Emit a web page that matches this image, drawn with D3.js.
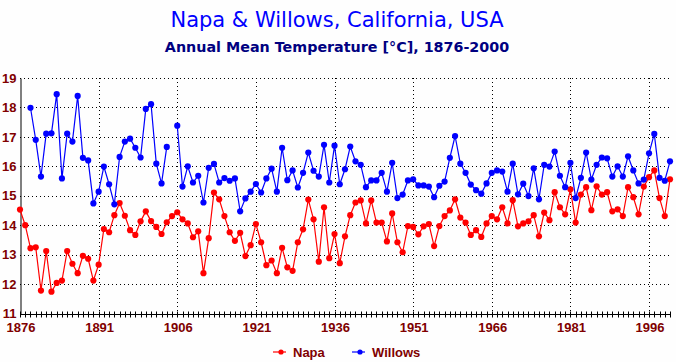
<!DOCTYPE html>
<meta charset="utf-8">
<style>
    body { margin: 0; background: #fefefe; }
    svg { display: block; }
</style>
<script src="https://d3js.org/d3.v7.min.js"></script>
<body>
<div id="chart"></div>
<script>

    // years 1876..2000
    var startYear = 1876;
    var napa = [14.53, 14.0, 13.22, 13.25, 11.78, 13.12, 11.74, 12.04, 12.12, 13.12,
        12.69, 12.37, 12.96, 12.86, 12.12, 12.66, 13.87, 13.76, 14.34, 14.75,
        14.32, 13.83, 13.67, 14.13, 14.47, 14.14, 13.94, 13.70, 14.10, 14.31,
        14.44, 14.20, 14.06, 13.59, 13.79, 12.37, 13.56, 15.11, 14.88, 14.31,
        13.76, 13.47, 13.74, 12.95, 13.32, 14.04, 13.42, 12.64, 12.80, 12.37,
        13.23, 12.57, 12.45, 13.42, 13.86, 14.87, 14.20, 12.76, 14.61, 12.88,
        13.70, 12.71, 13.62, 14.34, 14.77, 14.84, 14.06, 14.84, 14.09, 14.09,
        13.45, 14.40, 13.42, 13.08, 13.97, 13.94, 13.69, 13.96, 14.04, 13.29,
        13.97, 14.31, 14.50, 14.88, 14.26, 14.09, 13.67, 13.83, 13.60, 14.06,
        14.31, 14.20, 14.61, 14.06, 14.85, 13.96, 14.06, 14.13, 14.34, 13.62,
        14.43, 14.17, 15.12, 14.61, 14.37, 15.22, 14.09, 15.04, 15.29, 14.51,
        15.32, 15.04, 15.12, 14.47, 14.54, 14.31, 15.29, 14.95, 14.37, 15.31,
        15.63, 15.86, 14.92, 14.31, 15.56];

    var willows = [null, null, 17.99, 16.90, 15.65, 17.11, 17.12, 18.45, 15.59, 17.11,
        16.84, 18.39, 16.29, 16.20, 14.74, 15.14, 15.99, 15.39, 14.71, 16.32,
        16.84, 16.94, 16.63, 16.30, 17.95, 18.11, 16.09, 15.42, 16.66, null,
        17.38, 15.31, 16.00, 15.45, 15.68, 14.77, 15.95, 16.08, 15.45, 15.60,
        15.51, 15.59, 14.47, 14.91, 15.14, 15.40, 15.11, 15.59, 15.92, 15.14,
        16.63, 15.53, 15.86, 15.28, 15.78, 16.47, 15.85, 15.65, 16.73, 15.45,
        16.70, 15.39, 15.90, 16.67, 16.17, 16.05, 15.29, 15.52, 15.52, 15.78,
        15.14, 16.12, 14.92, 15.04, 15.52, 15.56, 15.35, 15.35, 15.31, 14.95,
        15.34, 15.48, 16.29, 17.03, 16.09, 15.78, 15.38, 15.19, 15.07, 15.42,
        15.78, 15.86, 15.82, 15.14, 16.09, 15.05, 15.41, 14.99, 15.93, 14.88,
        16.05, 15.99, 16.50, 15.68, 15.29, 16.12, 14.92, 15.61, 16.47, 15.55,
        16.05, 16.30, 16.27, 15.65, 16.00, 15.65, 16.34, 15.86, 15.42, 15.55,
        16.44, 17.10, 15.61, 15.51, 16.17];

    var xTicks = [1876, 1891, 1906, 1921, 1936, 1951, 1966, 1981, 1996];
    var yTicks = [11, 12, 13, 14, 15, 16, 17, 18, 19];

    var width = 676, height = 362;
    var labelColor = "#800000";

    var svg = d3.select("#chart")
        .append("svg")
        .attr("width", width)
        .attr("height", height);

    var x = d3.scaleLinear()
        .domain([1876, 2000])
        .range([20, 670]);

    var y = d3.scaleLinear()
        .domain([11, 19])
        .range([313.5, 78]);

    // titles
    svg.append("text")
        .attr("x", 337).attr("y", 27)
        .attr("text-anchor", "middle")
        .style("font", "21px 'DejaVu Sans', sans-serif")
        .style("fill", "#0000ff")
        .text("Napa & Willows, California, USA");

    svg.append("text")
        .attr("x", 337).attr("y", 52)
        .attr("text-anchor", "middle")
        .style("font", "bold 14.3px 'DejaVu Sans', sans-serif")
        .style("fill", "#000080")
        .text("Annual Mean Temperature [°C], 1876-2000");

    // dotted grid
    svg.append("g")
        .selectAll("line")
        .data(yTicks.slice(1))
        .enter()
        .append("line")
        .attr("x1", x(1876)).attr("x2", x(2000))
        .attr("y1", function (d) { return Math.round(y(d)) + 0.5; })
        .attr("y2", function (d) { return Math.round(y(d)) + 0.5; })
        .style("stroke", "#000")
        .style("stroke-dasharray", "1,3");

    svg.append("g")
        .selectAll("line")
        .data(xTicks.slice(1))
        .enter()
        .append("line")
        .attr("x1", function (d) { return Math.round(x(d)) + 0.5; })
        .attr("x2", function (d) { return Math.round(x(d)) + 0.5; })
        .attr("y1", y(19)).attr("y2", y(11))
        .style("stroke", "#000")
        .style("stroke-dasharray", "1,3");

    // y axis
    var yAxis = svg.append("g")
        .attr("transform", "translate(" + (x(1876) + 0.5) + ",0)")
        .call(d3.axisLeft(y).tickValues(yTicks).tickSize(0).tickPadding(4).tickFormat(d3.format("d")));
    yAxis.select(".domain").style("stroke", "#000");
    yAxis.selectAll("text")
        .style("font", "bold 13px 'Liberation Sans', Arial, sans-serif")
        .style("fill", labelColor);

    // x axis: yearly ticks crossing the line, labels every 15 years
    var years = d3.range(1876, 2001);
    var xAxis = svg.append("g")
        .attr("transform", "translate(0," + (Math.round(y(11)) + 0.5) + ")");
    xAxis.append("line")
        .attr("x1", x(1876)).attr("x2", x(2000) + 1)
        .style("stroke", "#000");
    xAxis.selectAll(".tk")
        .data(years)
        .enter()
        .append("line")
        .attr("class", "tk")
        .attr("x1", function (d) { return Math.round(x(d)) + 0.5; })
        .attr("x2", function (d) { return Math.round(x(d)) + 0.5; })
        .attr("y1", -3).attr("y2", 3)
        .style("stroke", "#000");
    xAxis.selectAll(".lbl")
        .data(xTicks)
        .enter()
        .append("text")
        .attr("class", "lbl")
        .attr("x", function (d) { return Math.max(x(d) + 1, 17); })
        .attr("y", 17)
        .attr("text-anchor", "middle")
        .style("font", "bold 13px 'Liberation Sans', Arial, sans-serif")
        .style("fill", labelColor)
        .text(function (d) { return d; });

    // series
    var series = [
        {name: "Napa", values: napa, color: "#ff0000"},
        {name: "Willows", values: willows, color: "#0000ff"}
    ];

    var line = d3.line()
        .defined(function (d) { return d != null; })
        .x(function (d, i) { return x(startYear + i); })
        .y(function (d) { return y(d); });

    series.forEach(function (s) {
        svg.append("path")
            .datum(s.values)
            .attr("d", line)
            .style("fill", "none")
            .style("stroke", s.color)
            .style("stroke-width", 1.2);

        svg.append("g")
            .selectAll("circle")
            .data(s.values.map(function (v, i) { return {yr: startYear + i, v: v}; })
                .filter(function (d) { return d.v != null; }))
            .enter()
            .append("circle")
            .attr("cx", function (d) { return x(d.yr); })
            .attr("cy", function (d) { return y(d.v); })
            .attr("r", 3.1)
            .style("fill", s.color);
    });

    // legend
    var legend = svg.append("g")
        .selectAll("g")
        .data(series)
        .enter()
        .append("g")
        .attr("transform", function (d, i) { return "translate(" + (273 + i * 79) + ",352)"; });
    legend.append("line")
        .attr("x1", 0).attr("x2", 13)
        .attr("y1", 0).attr("y2", 0)
        .style("stroke", function (d) { return d.color; })
        .style("stroke-width", 1.2);
    legend.append("circle")
        .attr("cx", 8).attr("cy", 0).attr("r", 2.6)
        .style("fill", function (d) { return d.color; });
    legend.append("text")
        .attr("x", 20).attr("y", 5)
        .style("font", "bold 13px 'Liberation Sans', Arial, sans-serif")
        .style("fill", labelColor)
        .text(function (d) { return d.name; });

</script>
</body>
